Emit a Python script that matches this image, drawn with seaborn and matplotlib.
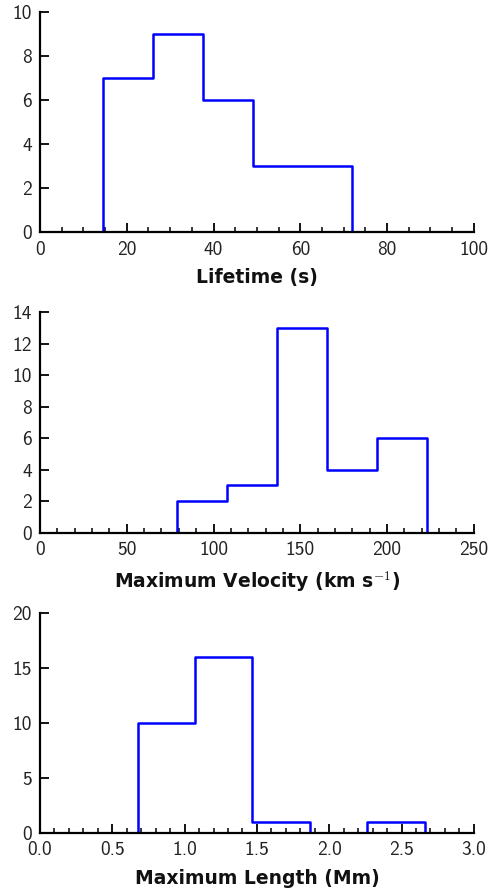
import numpy as np
import pandas as pd
import matplotlib
matplotlib.use("Agg")
import matplotlib.pyplot as plt
import seaborn as sns
from matplotlib.ticker import MultipleLocator, FormatStrFormatter

# histogram bin edges and counts
lifetime_edges = [14.5, 26.0, 37.5, 49.0, 60.5, 72.0]
lifetime_counts = [7, 9, 6, 3, 3]

velocity_edges = [78.8, 107.6, 136.5, 165.3, 194.2, 223.0]
velocity_counts = [2, 3, 13, 4, 6]

length_edges = [0.675, 1.072, 1.469, 1.866, 2.263, 2.660]
length_counts = [10, 16, 1, 0, 1]

sns.set_style("ticks")
plt.rcParams['font.family'] = ['cmss10', 'DejaVu Sans']
plt.rcParams['mathtext.fontset'] = 'cm'
plt.rcParams['axes.unicode_minus'] = False


def step_hist(ax, edges, counts):
    # pad one empty bin each side so the outline drops to zero at the ends
    edges = np.asarray(edges, dtype=float)
    counts = np.asarray(counts, dtype=float)
    w = edges[1] - edges[0]
    e = np.concatenate([[edges[0] - w], edges, [edges[-1] + w]])
    c = np.concatenate([[0], counts, [0]])
    df = pd.DataFrame({'x': (e[:-1] + e[1:]) / 2, 'n': c})
    sns.histplot(data=df, x='x', weights='n', bins=list(e), element="step", fill=False,
                 color="#0000ff", linewidth=1.8, ax=ax)


fig, axes = plt.subplots(3, 1, figsize=(4.91, 8.91), dpi=100)
plt.subplots_adjust(left=0.0815, right=0.965, top=0.9865, bottom=0.0651, hspace=0.3636)

panels = [
    (lifetime_edges, lifetime_counts, (0, 100), (0, 10), 20, 5, 2, 'Lifetime (s)'),
    (velocity_edges, velocity_counts, (0, 250), (0, 14), 50, 10, 2, 'Maximum Velocity (km s$^{-1}$)'),
    (length_edges, length_counts, (0, 3), (0, 20), 0.5, 0.1, 5, 'Maximum Length (Mm)'),
]

for ax, (edges, counts, xl, yl, xmaj, xmin, ymaj, label) in zip(axes, panels):
    step_hist(ax, edges, counts)
    ax.set_xlim(*xl)
    ax.set_ylim(*yl)
    ax.xaxis.set_major_locator(MultipleLocator(xmaj))
    ax.xaxis.set_minor_locator(MultipleLocator(xmin))
    ax.yaxis.set_major_locator(MultipleLocator(ymaj))
    if xmaj < 1:
        ax.xaxis.set_major_formatter(FormatStrFormatter('%.1f'))
    ax.tick_params(which='both', direction='in', top=False, right=False, color='black',
                   labelcolor='#222222')
    ax.tick_params(which='major', length=6.5, width=1.3, labelsize=14, pad=6)
    ax.tick_params(which='minor', length=3.6, width=1.1)
    for s in ['top', 'right']:
        ax.spines[s].set_visible(False)
    for s in ['left', 'bottom']:
        ax.spines[s].set_linewidth(1.6)
        ax.spines[s].set_color('black')
    ax.set_ylabel('')
    ax.set_xlabel(label, family='DejaVu Sans', fontweight='bold', fontsize=13.5,
                  color='#111111', labelpad=7)

fig.savefig("out.png", dpi=100)
